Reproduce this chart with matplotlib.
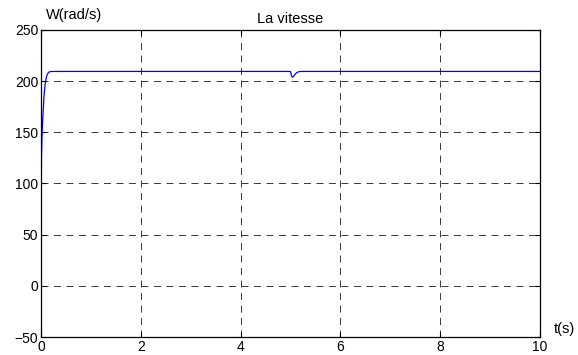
import matplotlib
matplotlib.use("Agg")
import matplotlib.pyplot as plt

plt.rcParams['font.family'] = ['Liberation Sans', 'DejaVu Sans']
plt.rcParams['lines.scale_dashes'] = False

# Rotor speed response (rad/s) over time (s)
t = [0.0, 0.003, 0.006, 0.01, 0.02, 0.03, 0.04, 0.05, 0.06, 0.08, 0.10, 0.12,
     0.15, 0.18, 0.22, 4.99, 5.0, 5.01, 5.02, 5.04, 5.06, 5.08, 5.10, 5.13,
     5.17, 5.22, 10.0]
w = [0.0, 50, 95, 125, 145, 158, 167, 176, 185, 196, 202, 206,
     208.5, 209.3, 209.5, 209.5, 209.5, 207.5, 205.0, 204.0, 204.6, 205.8,
     207.2, 208.5, 209.3, 209.5, 209.5]

xticks = [0, 2, 4, 6, 8, 10]
yticks = [-50, 0, 50, 100, 150, 200, 250]

fig = plt.figure(figsize=(5.78, 3.55), dpi=100)
ax = fig.add_axes([0.0709, 0.0507, 0.8633, 0.8648])

ax.plot(t, w, color='#0000ff', linewidth=0.9)

ax.set_xlim(0, 10)
ax.set_ylim(-50, 250)
ax.set_xticks(xticks)
ax.set_yticks(yticks)
ax.tick_params(direction='in', length=3.5, width=0.8, top=True, right=True,
               labelsize=10, pad=2, colors='black')
for s in ax.spines.values():
    s.set_linewidth(0.9)
    s.set_color('black')

ax.grid(True, color='#383838', linestyle=(0, (5, 4)), linewidth=0.7)

ax.set_title('La vitesse', fontsize=10.5, pad=5)
ax.text(0.01, 1.025, 'W(rad/s)', transform=ax.transAxes, fontsize=10.5,
        ha='left', va='bottom')
ax.text(1.028, 0.025, 't(s)', transform=ax.transAxes, fontsize=10.5,
        ha='left', va='center')

fig.savefig('out.png', dpi=100)
